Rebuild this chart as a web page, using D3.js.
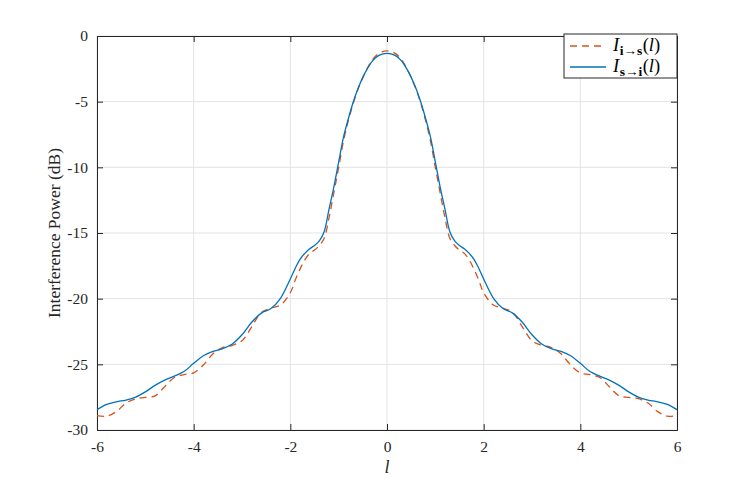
<!DOCTYPE html>
<html><head><meta charset="utf-8">
<script src="https://cdn.jsdelivr.net/npm/d3@7"></script>
<style>body{margin:0;background:#fff}svg{display:block}</style>
</head><body>
<svg id="c" width="747" height="484"></svg>
<script>
const lValues = [-6,-5.8,-5.6,-5.4,-5.2,-5.0,-4.8,-4.6,-4.4,-4.2,-4.0,-3.8,-3.6,-3.4,-3.2,-3.0,-2.8,-2.6,-2.4,-2.2,-2.0,-1.9,-1.8,-1.7,-1.6,-1.5,-1.4,-1.3,-1.2,-1.1,-1.0,-0.9,-0.8,-0.7,-0.6,-0.5,-0.4,-0.3,-0.2,-0.1,0,
 0.1,0.2,0.3,0.4,0.5,0.6,0.7,0.8,0.9,1.0,1.1,1.2,1.3,1.4,1.5,1.6,1.7,1.8,1.9,2.0,2.2,2.4,2.6,2.8,3.0,3.2,3.4,3.6,3.8,4.0,4.2,4.4,4.6,4.8,5.0,5.2,5.4,5.6,5.8,6];
const seriesSI = [-28.45,-28.05,-27.85,-27.72,-27.5,-27.1,-26.6,-26.2,-25.9,-25.55,-24.92,-24.35,-24.02,-23.8,-23.45,-22.75,-21.8,-21.1,-20.75,-19.95,-18.5,-17.7,-17.0,-16.55,-16.2,-15.95,-15.6,-14.9,-13.2,-11.5,-9.6,-7.7,-6.3,-5.05,-4.0,-3.15,-2.45,-1.9,-1.55,-1.38,-1.32,
 -1.38,-1.55,-1.9,-2.45,-3.15,-4.0,-5.05,-6.3,-7.7,-9.6,-11.5,-13.2,-14.9,-15.6,-15.95,-16.2,-16.55,-17.0,-17.7,-18.5,-19.95,-20.75,-21.1,-21.8,-22.75,-23.45,-23.8,-24.02,-24.35,-24.92,-25.55,-25.9,-26.2,-26.6,-27.1,-27.5,-27.72,-27.85,-28.05,-28.45];
const seriesIS = [-28.9,-28.95,-28.6,-27.95,-27.62,-27.52,-27.4,-26.7,-26.0,-25.78,-25.65,-25.05,-24.2,-23.72,-23.55,-23.2,-22.15,-21.05,-20.72,-20.48,-19.55,-18.6,-17.75,-17.05,-16.55,-16.3,-15.95,-15.4,-13.85,-11.95,-10.0,-8.0,-6.45,-5.15,-4.05,-3.15,-2.4,-1.8,-1.4,-1.2,-1.14,
 -1.2,-1.4,-1.8,-2.4,-3.15,-4.05,-5.15,-6.45,-8.0,-10.0,-11.95,-13.85,-15.4,-15.95,-16.3,-16.55,-17.05,-17.75,-18.6,-19.55,-20.48,-20.72,-21.05,-22.15,-23.2,-23.55,-23.72,-24.2,-25.05,-25.65,-25.78,-26.0,-26.7,-27.4,-27.52,-27.62,-27.95,-28.6,-28.95,-28.9];
const xTicks = [-6,-4,-2,0,2,4,6];
const yTicks = [-30,-25,-20,-15,-10,-5,0];

const svg = d3.select('#c');
const L = 97, R = 677, T = 36, B = 430;
const x = d3.scaleLinear().domain([-6,6]).range([L,R]);
const y = d3.scaleLinear().domain([-30,0]).range([B,T]);
const font = "'Liberation Serif', 'Times New Roman', 'DejaVu Serif', serif";
const axisColor = '#262626';

// grid
const g = svg.append('g');
g.selectAll('.gx').data(xTicks).enter().append('line')
  .attr('x1',d=>x(d)).attr('x2',d=>x(d)).attr('y1',T).attr('y2',B)
  .attr('stroke','#e3e3e3').attr('stroke-width',1);
g.selectAll('.gy').data(yTicks).enter().append('line')
  .attr('y1',d=>y(d)).attr('y2',d=>y(d)).attr('x1',L).attr('x2',R)
  .attr('stroke','#e3e3e3').attr('stroke-width',1);

// axes
const fmt = d => d < 0 ? '-' + Math.abs(d) : String(d);
const ax = svg.append('g').attr('transform',`translate(0,${B})`)
  .call(d3.axisBottom(x).tickValues(xTicks).tickSize(-6).tickPadding(11).tickFormat(fmt));
const axT = svg.append('g').attr('transform',`translate(0,${T})`)
  .call(d3.axisTop(x).tickValues(xTicks).tickSize(-6).tickFormat(''));
const ay = svg.append('g').attr('transform',`translate(${L},0)`)
  .call(d3.axisLeft(y).tickValues(yTicks).tickSize(-6).tickPadding(9).tickFormat(fmt));
const ayR = svg.append('g').attr('transform',`translate(${R},0)`)
  .call(d3.axisRight(y).tickValues(yTicks).tickSize(-6).tickFormat(''));
[ax,axT,ay,ayR].forEach(a=>{
  a.attr('font-family',font).attr('font-size',15.5);
  a.selectAll('path').attr('stroke',axisColor).attr('stroke-width',1);
  a.selectAll('line').attr('stroke',axisColor).attr('stroke-width',1);
  a.selectAll('text').attr('fill','#262626');
});

// lines
const pts = vals => lValues.map((l,i)=>[l, vals[i]]);
const line = d3.line().x(d=>x(d[0])).y(d=>y(d[1])).curve(d3.curveCatmullRom.alpha(0.5));
svg.append('path').datum(pts(seriesIS)).attr('d',line).attr('fill','none')
  .attr('stroke','#D95319').attr('stroke-width',1.3).attr('stroke-dasharray','7,5');
svg.append('path').datum(pts(seriesSI)).attr('d',line).attr('fill','none')
  .attr('stroke','#0072BD').attr('stroke-width',1.3);

// labels
svg.append('text').attr('x',x(0)).attr('y',473).attr('text-anchor','middle')
  .attr('font-family',font).attr('font-size',18).attr('font-style','italic').attr('fill','#262626').text('l');
svg.append('text').attr('transform',`translate(60,${(T+B)/2}) rotate(-90)`).attr('text-anchor','middle')
  .attr('font-family',font).attr('font-size',17.5).attr('fill','#262626').text('Interference Power (dB)');

// legend
const lg = svg.append('g');
lg.append('rect').attr('x',564).attr('y',34).attr('width',113).attr('height',44)
  .attr('fill','#fff').attr('stroke',axisColor).attr('stroke-width',1);
const entries = [
  {sub:'i→s', color:'#D95319', dash:'7,5', yy:46},
  {sub:'s→i', color:'#0072BD', dash:null, yy:67}
];
entries.forEach(e=>{
  lg.append('line').attr('x1',570).attr('x2',606).attr('y1',e.yy).attr('y2',e.yy)
    .attr('stroke',e.color).attr('stroke-width',1.3).attr('stroke-dasharray',e.dash);
  const t = lg.append('text').attr('x',613).attr('y',e.yy+5).attr('font-family',font).attr('font-size',18.5).attr('fill','#000');
  t.append('tspan').attr('font-style','italic').text('I');
  t.append('tspan').attr('dy',4).attr('dx',0.5).attr('font-weight','bold').attr('font-size',13.5).text(e.sub);
  t.append('tspan').attr('dy',-4).attr('dx',0.5).text('(');
  t.append('tspan').attr('font-style','italic').text('l');
  t.append('tspan').text(')');
});
</script>
</body></html>
